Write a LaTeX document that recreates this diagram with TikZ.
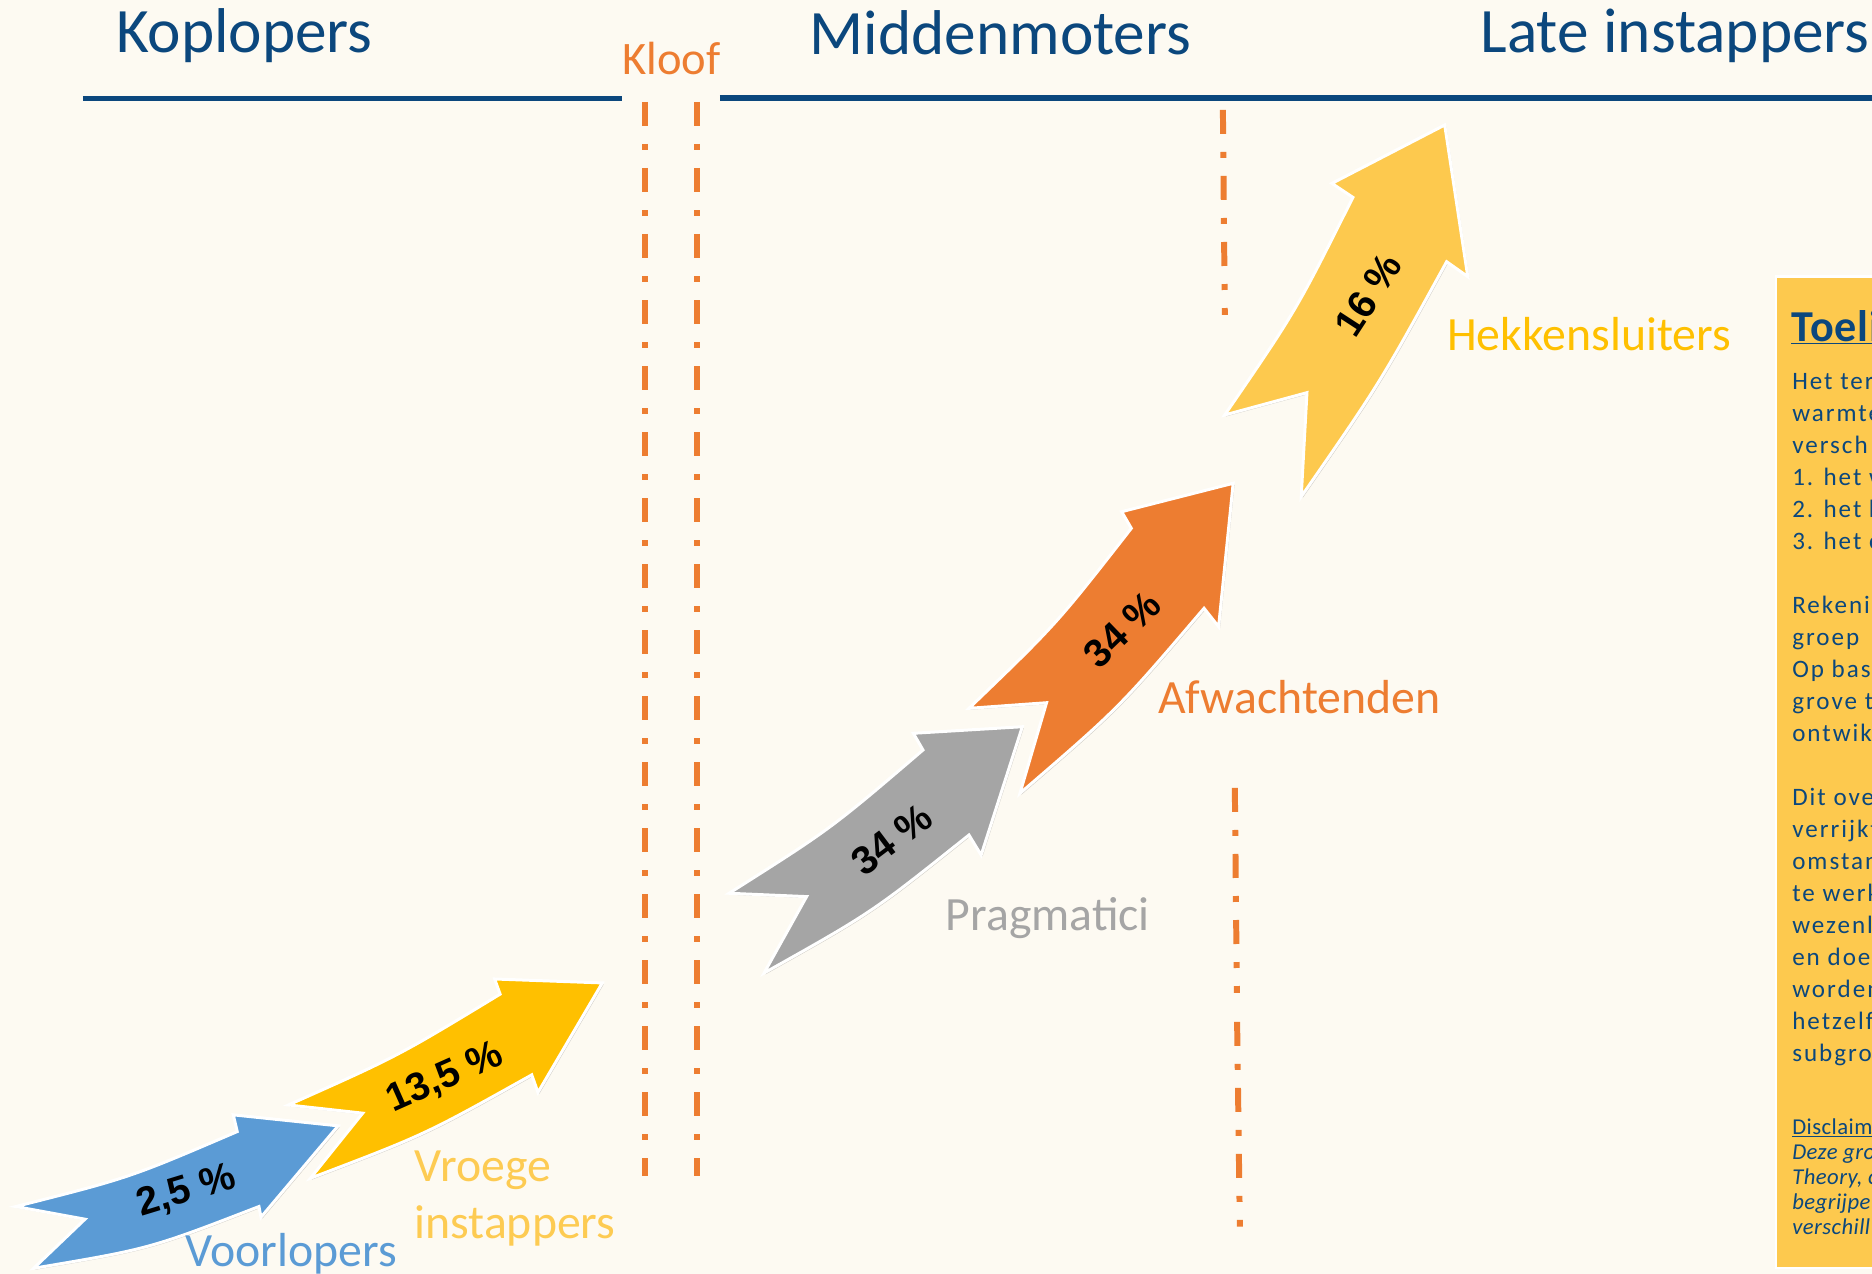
\documentclass[tikz,border=0pt]{standalone}
\usepackage{fontspec}
\setmainfont{Carlito}
\newfontfamily\pctfont{Liberation Sans}
\usetikzlibrary{shadows}
\definecolor{bg}{HTML}{FDFAF2}
\definecolor{navy}{HTML}{0B477D}
\definecolor{kloof}{HTML}{ED7D31}
\definecolor{ablue}{HTML}{5B9BD5}
\definecolor{agold}{HTML}{FFC000}
\definecolor{agray}{HTML}{A5A5A5}
\definecolor{aorange}{HTML}{ED7D31}
\definecolor{ayellow}{HTML}{FDC94E}
\definecolor{vroeg}{HTML}{FDCB52}
\tikzset{
  arrowshape/.style={draw=white, line width=2.5pt, line join=miter,
    drop shadow={shadow xshift=1.2pt, shadow yshift=-1.2pt, opacity=0.18, fill=black}},
  hdr/.style={inner sep=0pt, anchor=base west, text=navy, font=\fontsize{53}{63}\selectfont},
  lbl/.style={inner sep=0pt, anchor=base west, font=\fontsize{40}{48}\selectfont},
  pct/.style={inner sep=0pt, anchor=center, text=black, font=\pctfont\bfseries\fontsize{33}{39}\selectfont},
  gapline/.style={draw=kloof, line width=5pt, dash pattern=on 20.1pt off 15.1pt on 5pt off 15.1pt},
  rulebar/.style={draw=navy, line width=4.5pt},
  boxtxt/.style={inner sep=0pt, anchor=base west, text=navy, font=\fontsize{21}{25}\selectfont\addfontfeature{LetterSpace=8}},
  disctxt/.style={inner sep=0pt, anchor=base west, text=navy, font=\fontsize{19}{22}\selectfont\itshape\addfontfeature{LetterSpace=2}},
}
\begin{document}
\begin{tikzpicture}[x=1pt,y=-1pt]
\fill[bg] (0,0) rectangle (1568,1067);
\useasboundingbox (0,0) rectangle (1568,1067);
\clip (0,0) rectangle (1568,1067);

% header
\node[hdr] (kop) at (97,44) {Koplopers};
\node[hdr] (mid) at (678,46) {Middenmoters};
\node[hdr] (late) at (1240,44) {Late instappers};
\node[inner sep=0pt, anchor=base west, text=kloof, font=\fontsize{39}{47}\selectfont] (kloof) at (521,62.5) {Kloof};
\coordinate (r1a) at (69.5,82.5); \coordinate (r1b) at (521,82.5);
\coordinate (r2a) at (603,82); \coordinate (r2b) at (1568,82);
\draw[rulebar] (r1a) -- (r1b);
\draw[rulebar] (r2a) -- (r2b);

% dashed dividers
\coordinate (g1a) at (540.2,85.4); \coordinate (g1b) at (540.2,985);
\coordinate (g2a) at (583.7,85.4); \coordinate (g2b) at (583.7,985);
\coordinate (g3a) at (1024.3,92.1); \coordinate (g3b) at (1025.9,263.8);
\coordinate (g4a) at (1034.3,660); \coordinate (g4b) at (1036,831.7);
\coordinate (g5a) at (1036.2,855.9); \coordinate (g5b) at (1038.5,1027.4);
\draw[gapline] (g1a) -- (g1b);
\draw[gapline] (g2a) -- (g2b);
\draw[gapline] (g3a) -- (g3b);
\draw[gapline] (g4a) -- (g4b);
\draw[gapline] (g5a) -- (g5b);

% arrows
\path[arrowshape, fill=ablue] (13.2,1010.6) .. controls (108.5,986.5) .. (198.7,947.8)
  -- (195.4,933.8) -- (283.2,943) -- (218.6,1019.5) -- (216.9,1010.6)
  .. controls (125.3,1046) .. (28.2,1062.3) -- (71.2,1021.2) -- cycle;
\path[arrowshape, fill=agold] (241.6,925.5) .. controls (333.2,884.7) .. (418.9,832.7)
  -- (414.3,820) -- (504.5,823.3) -- (450.6,915) -- (445.4,900.3)
  .. controls (355.9,950.4) .. (260,986.9) -- (303.8,932.4) -- cycle;
\path[arrowshape, fill=agray] (610.7,748.2) .. controls (696.2,694) .. (773.1,628.2)
  -- (765,614.2) -- (856.3,608.7) -- (821.8,716.2) -- (811.6,699.4)
  .. controls (730.5,764.2) .. (640,815) -- (675.6,751) -- cycle;
\path[arrowshape, fill=aorange] (811.6,593.3) .. controls (885,522.7) .. (947.6,442.5)
  -- (939.5,428.6) -- (1032.9,404.8) -- (1020.7,524.9) -- (1008.5,509.5)
  .. controls (937.2,593.1) .. (854.3,664.5) -- (876.6,588.6) -- cycle;
\path[arrowshape, fill=ayellow] (1025.8,347.6) .. controls (1085.7,260.2) .. (1133.2,165.3)
  -- (1115.6,153.6) -- (1210.1,104.7) -- (1229.4,231.7) -- (1211.7,219.2)
  .. controls (1155.9,320.8) .. (1089.9,416) -- (1094.7,328.9) -- cycle;

% percentages
\node[pct, rotate=17] (p1) at (156,998) {2,5 \%};
\node[pct, rotate=24] (p2) at (373,903) {13,5 \%};
\node[pct, rotate=37] (p3) at (747,703) {34 \%};
\node[pct, rotate=44] (p4) at (940,527) {34 \%};
\node[pct, rotate=57] (p5) at (1146,247) {16 \%};

% group labels
\node[lbl, text=ablue] (voor) at (155,1061) {Voorlopers};
\node[lbl, text=vroeg] (vroe) at (347,990) {Vroege};
\node[lbl, text=vroeg] (inst) at (347,1037.5) {instappers};
\node[lbl, text=agray] (prag) at (792,779) {Pragmatici};
\node[lbl, text=aorange] (afw) at (970,597.5) {Afwachtenden};
\node[lbl, text=agold] (hek) at (1212,293.5) {Hekkensluiters};

% explanation box
\path[fill=ayellow, draw=white, line width=2pt] (1487.4,231.7) rectangle (1600,1062.2);
\node[inner sep=0pt, anchor=base west, text=navy, font=\fontsize{37}{44}\selectfont\bfseries\addfontfeature{LetterSpace=2}] (toel) at (1500,286) {\underline{Toeli}};
\foreach \t/\yy [count=\i] in {Het term/326, warmte/352.8, versch/379.6, 1. het w/406.4, 2. het k/433.2, 3. het c/460,
  Rekeni/513.6, groep/540.4, Op bas/567.2, grove t/594, ontwik/620.8,
  Dit ove/674.4, verrijkt/701.2, omstan/728, te werk/754.8, wezenl/781.6, en doe/808.4, worden/835.2, hetzelf/862, subgro/888.8}
  \node[boxtxt] (b\i) at (1501,\yy) {\t};
\node[inner sep=0pt, anchor=base west, text=navy, font=\fontsize{19}{22}\selectfont\addfontfeature{LetterSpace=2}] (disc) at (1501,950) {\underline{Disclaim}};
\node[disctxt] (d1) at (1501,971) {Deze gro};
\node[disctxt] (d2) at (1501,992) {Theory, c};
\node[disctxt] (d3) at (1501,1013) {begrijpe};
\node[disctxt] (d4) at (1501,1034) {verschill};
\end{tikzpicture}
\end{document}
